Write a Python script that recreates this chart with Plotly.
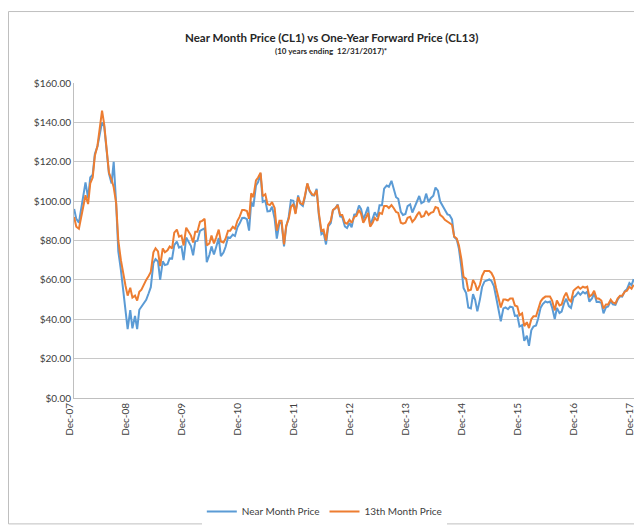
import pandas as pd
import plotly.graph_objects as go

# semi-monthly readings (1st and 15th), Jan 2008 .. Dec 2017, plus year-end close
near_2008 = [96.0, 91.0, 89.0, 95.5, 101.8, 109.5, 101.5, 112.0, 113.5, 124.0, 127.8, 134.5,
             140.0, 138.0, 125.0, 114.0, 109.0, 120.0, 98.5, 74.5, 65.0, 56.0, 47.0, 35.0]
near_2009 = [44.6, 35.4, 41.7, 35.0, 44.8, 46.3, 48.4, 49.9, 53.2, 56.3, 68.6, 70.5,
             69.3, 60.0, 69.4, 67.5, 68.0, 70.9, 70.8, 77.6, 79.5, 76.4, 77.0, 70.0]
near_2010 = [81.5, 79.4, 77.2, 72.5, 79.7, 79.8, 84.9, 85.5, 86.2, 69.0, 72.6, 77.0,
             72.9, 76.6, 81.3, 72.0, 73.9, 76.8, 81.6, 81.3, 83.0, 82.3, 86.7, 88.6]
near_2011 = [91.4, 91.5, 90.8, 85.0, 99.6, 97.2, 107.9, 109.7, 114.0, 99.6, 100.3, 94.8,
             95.0, 97.2, 91.0, 81.0, 88.9, 88.9, 77.0, 86.8, 92.2, 100.5, 100.2, 94.0]
near_2012 = [102.9, 98.7, 97.6, 102.3, 108.8, 105.1, 103.0, 102.9, 106.2, 93.0, 83.2, 84.0,
             78.0, 87.1, 88.9, 95.3, 96.5, 98.3, 92.2, 91.9, 87.1, 86.3, 88.9, 86.7]
near_2013 = [93.1, 93.3, 97.8, 95.9, 90.7, 93.4, 97.1, 87.5, 91.0, 94.3, 91.9, 97.9,
             97.9, 106.3, 107.9, 107.3, 110.3, 106.6, 102.0, 101.2, 94.6, 93.0, 93.5, 97.5]
near_2014 = [98.4, 94.2, 97.5, 100.3, 102.6, 98.9, 99.7, 103.8, 99.4, 101.5, 102.7, 106.9,
             105.3, 99.9, 97.9, 95.6, 93.3, 92.9, 90.7, 81.8, 80.5, 75.8, 66.2, 55.9]
near_2015 = [53.3, 46.0, 45.5, 52.8, 49.8, 44.0, 50.1, 56.4, 59.2, 59.7, 60.2, 59.5,
             56.9, 51.4, 45.2, 39.0, 45.5, 46.0, 45.1, 46.4, 46.1, 41.7, 41.9, 36.3]
near_2016 = [37.0, 29.0, 31.6, 26.5, 34.4, 36.3, 36.8, 40.4, 45.9, 47.7, 49.0, 48.5,
             49.0, 45.9, 40.1, 45.7, 43.2, 43.9, 48.2, 50.4, 46.7, 45.8, 51.1, 51.9]
near_2017 = [53.7, 52.4, 53.9, 53.1, 54.0, 48.9, 50.6, 53.2, 48.8, 48.9, 48.3, 43.0,
             46.0, 46.5, 49.2, 47.6, 47.3, 49.9, 51.7, 51.5, 54.3, 55.3, 58.4, 57.3, 60.4]

fwd_2008 = [92.0, 87.0, 86.0, 92.0, 97.0, 103.0, 98.5, 109.0, 112.0, 123.0, 128.0, 137.0,
            146.0, 139.0, 124.0, 114.5, 111.0, 107.0, 99.0, 80.0, 70.0, 63.0, 57.0, 52.0]
fwd_2009 = [56.0, 51.0, 52.0, 49.5, 54.0, 55.0, 58.0, 60.0, 62.0, 64.0, 74.0, 76.0,
            74.5, 67.0, 76.0, 74.0, 75.0, 77.0, 76.0, 84.0, 85.5, 82.0, 82.5, 77.5]
fwd_2010 = [86.5, 84.5, 82.5, 79.0, 84.5, 84.5, 89.5, 90.0, 91.0, 77.5, 78.5, 82.5,
            78.5, 81.5, 85.5, 79.5, 79.0, 81.0, 85.0, 85.0, 87.0, 86.0, 90.0, 92.0]
fwd_2011 = [95.5, 95.5, 95.0, 91.0, 104.0, 102.0, 110.5, 112.0, 114.5, 102.5, 103.5, 98.5,
            98.0, 99.5, 96.5, 85.0, 90.0, 90.0, 78.0, 87.5, 91.0, 97.0, 98.5, 93.5]
fwd_2012 = [102.0, 99.0, 98.5, 103.0, 109.0, 105.5, 103.5, 103.0, 105.5, 94.0, 85.0, 85.5,
            80.0, 88.0, 90.0, 95.5, 96.5, 98.0, 93.0, 93.0, 89.0, 88.5, 90.5, 89.0]
fwd_2013 = [92.0, 92.5, 95.5, 93.5, 89.0, 91.0, 94.0, 87.0, 89.0, 91.5, 90.0, 94.0,
            93.5, 97.5, 97.5, 96.5, 98.0, 96.5, 94.5, 94.0, 89.0, 88.5, 89.0, 91.5]
fwd_2014 = [92.0, 89.5, 91.0, 93.0, 94.5, 92.0, 92.5, 95.0, 93.0, 94.0, 94.5, 97.0,
            96.5, 93.0, 92.0, 90.5, 89.5, 89.0, 88.0, 82.0, 81.0, 77.5, 70.5, 61.5]
fwd_2015 = [60.5, 54.5, 55.0, 60.0, 58.0, 54.5, 57.5, 62.0, 64.5, 64.5, 64.5, 63.5,
            61.0, 56.0, 50.5, 46.0, 50.0, 50.0, 49.5, 50.5, 50.5, 47.0, 46.5, 42.0]
fwd_2016 = [43.0, 36.5, 38.5, 35.5, 40.0, 41.5, 41.5, 44.5, 49.0, 50.5, 51.5, 51.5,
            51.5, 49.5, 44.5, 49.5, 47.0, 47.5, 51.5, 53.5, 50.0, 49.0, 54.5, 55.5]
fwd_2017 = [56.5, 55.5, 56.5, 56.0, 56.5, 51.5, 52.5, 54.5, 50.5, 50.5, 49.5, 45.5,
            47.5, 47.5, 50.0, 48.5, 48.0, 50.5, 52.0, 52.0, 54.0, 54.5, 56.5, 55.5, 57.5]

near = (near_2008 + near_2009 + near_2010 + near_2011 + near_2012 +
        near_2013 + near_2014 + near_2015 + near_2016 + near_2017)
fwd = (fwd_2008 + fwd_2009 + fwd_2010 + fwd_2011 + fwd_2012 +
       fwd_2013 + fwd_2014 + fwd_2015 + fwd_2016 + fwd_2017)

dates = list(pd.date_range("2008-01-01", "2017-12-15", freq="SMS")) + [pd.Timestamp("2017-12-29")]

tick_dates = [f"{y}-12-31" for y in range(2007, 2018)]
tick_text = [f"Dec-{str(y)[2:]}" for y in range(2007, 2018)]

fig = go.Figure()
fig.add_trace(go.Scatter(x=dates, y=near, mode="lines", name="Near Month Price",
                         line=dict(color="#5B9BD5", width=2)))
fig.add_trace(go.Scatter(x=dates, y=fwd, mode="lines", name="13th Month Price",
                         line=dict(color="#ED7D31", width=2)))

fig.update_xaxes(
    type="date",
    range=["2007-12-31", "2017-12-31"],
    tickmode="array",
    tickvals=tick_dates,
    ticktext=tick_text,
    tickangle=-90,
    ticklabelshift=-4,
    showgrid=False,
    showline=True,
    linecolor="#BFBFBF",
    linewidth=1,
    tickfont=dict(family="Lato", size=10, color="#404040"),
)
fig.update_yaxes(
    range=[0, 160],
    dtick=20,
    tickformat="$,.2f",
    showgrid=True,
    gridcolor="#C8C8C8",
    gridwidth=1,
    showline=True,
    linecolor="#BFBFBF",
    linewidth=1,
    zeroline=False,
    ticks="",
    tickfont=dict(family="Lato", size=10, color="#404040"),
)

fig.update_layout(
    width=642,
    height=530,
    margin=dict(l=66, r=16, t=75, b=131),
    plot_bgcolor="white",
    paper_bgcolor="white",
    font=dict(family="Lato", color="#404040"),
    showlegend=True,
    legend=dict(orientation="h", x=0.447, xanchor="center", y=-0.36, yanchor="middle",
                font=dict(family="Lato", size=10, color="#404040"),
                itemwidth=30, tracegroupgap=0),
    annotations=[
        dict(text="<b>Near Month Price (CL1) vs One-Year Forward Price (CL13)</b>",
             xref="paper", yref="paper", x=0.459, y=1.145, xanchor="center", yanchor="middle",
             showarrow=False, font=dict(family="Lato", size=11.5, color="#262626")),
        dict(text="<b>(10 years ending  12/31/2017)*</b>",
             xref="paper", yref="paper", x=0.459, y=1.102, xanchor="center", yanchor="middle",
             showarrow=False, font=dict(family="Lato", size=8, color="#262626")),
    ],
    shapes=[
        dict(type="rect", xref="paper", yref="paper",
             x0=-65.5 / 560, x1=574.5 / 560, y0=-129.5 / 324, y1=397.5 / 324,
             line=dict(color="#BFBFBF", width=1), fillcolor="rgba(0,0,0,0)", layer="below"),
    ],
)

fig.write_html("out.html")
